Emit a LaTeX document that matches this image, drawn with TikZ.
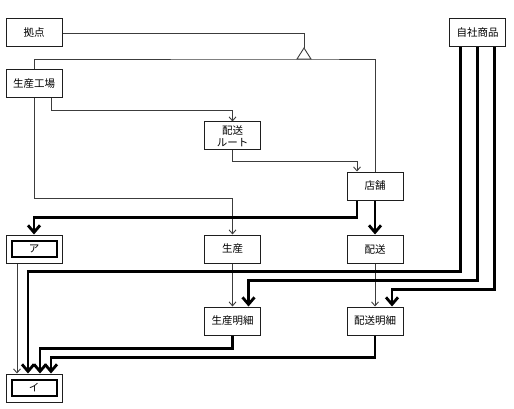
\documentclass[tikz,border=0pt]{standalone}
\usepackage{fontspec}
\setmainfont{Noto Sans CJK JP}
\usepackage{xcolor}
\definecolor{lnblack}{RGB}{30,30,30}
\definecolor{lngray}{RGB}{60,60,60}
\usepackage{tikz}
\usetikzlibrary{arrows.meta, positioning, calc}

\begin{document}
\begin{tikzpicture}[x=1pt, y=-1pt,
    box/.style={draw=lnblack, line width=1pt, fill=white, minimum width=56pt,
      minimum height=28pt, inner sep=1pt, align=center,
      font=\fontsize{10.5}{12.5}\selectfont},
    inbox/.style={draw=black, line width=2pt, minimum width=45pt,
      minimum height=16pt, inner sep=0pt, font=\fontsize{10.5}{12.5}\selectfont},
    thinarr/.style={lngray, line width=0.9pt, -{Straight Barb[length=4pt,width=7pt]}},
    thickarr/.style={black, line width=2.8pt, -{Straight Barb[length=7pt,width=12pt]}},
    genln/.style={lngray, line width=0.9pt}]

\useasboundingbox (0,0) rectangle (514,409);

% === Entities ===
\node[box] (kyoten) at (34,33) {拠点};
\node[box] (kojo) at (34,84) {生産工場};
\node[box] (route) at (232.5,136) {配送\\ルート};
\node[box] (tenpo) at (375,186) {店舗};
\node[box] (jisha) at (477.5,33) {自社商品};
\node[box] (seisan) at (232.5,249) {生産};
\node[box] (haiso) at (375,249) {配送};
\node[box] (smeisai) at (232.5,321) {生産明細};
\node[box] (hmeisai) at (375,321) {配送明細};

% boxes with a thick inner frame
\node[box] (a) at (34,249) {};
\node[inbox] (a-in) at (a) {ア};
\node[box] (i) at (34,388) {};
\node[inbox] (i-in) at (i) {イ};

% === Generalization ===
\coordinate (gen) at (304,59);
\draw[genln] (kyoten.east) -| ($(gen)+(0,-11)$);
\draw[genln] (kojo.north) |- (gen) -| (tenpo.north);
\draw[genln, fill=white] ($(gen)+(-7,0)$) -- ($(gen)+(0,-11)$) -- ($(gen)+(7,0)$) -- cycle;

% === Thin relations ===
\draw[thinarr] ([xshift=17pt]kojo.south) -- ++(0,12) -| (route.north);
\draw[thinarr] (kojo.south) -- ++(0,100) -| (seisan.north);
\draw[thinarr] (route.south) -- ++(0,11) -| ([xshift=-18pt]tenpo.north);
\draw[thinarr] (seisan.south) -- (smeisai.north);
\draw[thinarr] (haiso.south) -- (hmeisai.north);
\draw[thinarr] ([xshift=-17pt]a.south) -- ([xshift=-17pt]i.north);

% === Thick relations ===
\draw[thickarr] ([xshift=-18pt]tenpo.south) -- ++(0,17) -| (a.north);
\draw[thickarr] (tenpo.south) -- (haiso.north);
\draw[thickarr] ([xshift=-17pt]jisha.south) -- ++(0,224) -| ([xshift=-6pt]i.north);
\draw[thickarr] (jisha.south) -- ++(0,233) -| ([xshift=16pt]smeisai.north);
\draw[thickarr] ([xshift=17pt]jisha.south) -- ++(0,242) -| ([xshift=17pt]hmeisai.north);
\draw[thickarr] (smeisai.south) -- ++(0,13) -| ([xshift=6pt]i.north);
\draw[thickarr] (hmeisai.south) -- ++(0,22) -| ([xshift=17pt]i.north);

\end{tikzpicture}
\end{document}
